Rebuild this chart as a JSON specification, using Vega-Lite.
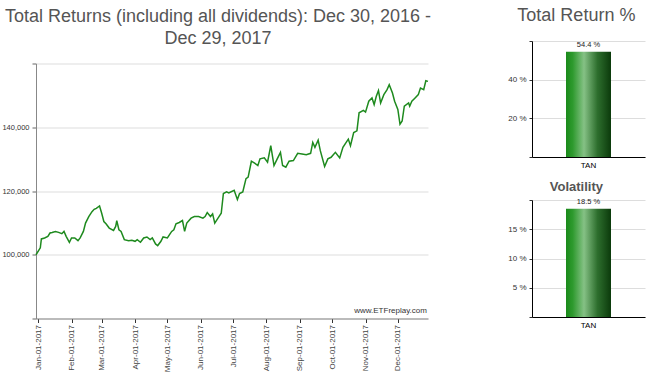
{
  "$schema": "https://vega.github.io/schema/vega-lite/v6.json",
  "padding": {"left": 1, "top": 7, "right": 5, "bottom": 5},
  "background": "white",
  "config": {
    "view": {"stroke": null},
    "font": "Liberation Sans",
    "axis": {"labelFont": "Liberation Sans", "gridColor": "#dddddd", "title": null, "labelOverlap": false}
  },
  "spacing": 75,
  "hconcat": [
    {
      "spacing": 10.5,
      "vconcat": [
        {
          "title": {
            "text": ["Total Returns (including all dividends): Dec 30, 2016 -", "Dec 29, 2017"],
            "fontSize": 18, "fontWeight": "normal", "color": "#555555", "lineHeight": 22.6, "offset": -7.5, "anchor": "middle", "frame": "group", "dx": -14
          },
          "width": 392,
          "height": 1,
          "data": {"values": []},
          "mark": {"type": "rule"},
          "encoding": {}
        },
        {
          "width": 392,
          "height": 255,
          "layer": [
            {
              "data": {"values": [
                {"date": "2016/12/30", "value": 100000},
                {"date": "2017/01/03", "value": 102170},
                {"date": "2017/01/04", "value": 104960},
                {"date": "2017/01/07", "value": 105270},
                {"date": "2017/01/10", "value": 105770},
                {"date": "2017/01/12", "value": 106820},
                {"date": "2017/01/14", "value": 107010},
                {"date": "2017/01/17", "value": 107320},
                {"date": "2017/01/20", "value": 107010},
                {"date": "2017/01/23", "value": 106600},
                {"date": "2017/01/25", "value": 107320},
                {"date": "2017/01/27", "value": 105770},
                {"date": "2017/01/30", "value": 103900},
                {"date": "2017/02/01", "value": 105270},
                {"date": "2017/02/04", "value": 105270},
                {"date": "2017/02/07", "value": 104430},
                {"date": "2017/02/09", "value": 105270},
                {"date": "2017/02/12", "value": 107320},
                {"date": "2017/02/14", "value": 109920},
                {"date": "2017/02/17", "value": 111970},
                {"date": "2017/02/20", "value": 113520},
                {"date": "2017/02/22", "value": 114260},
                {"date": "2017/02/24", "value": 114570},
                {"date": "2017/02/27", "value": 115290},
                {"date": "2017/03/01", "value": 113020},
                {"date": "2017/03/03", "value": 110420},
                {"date": "2017/03/05", "value": 109710},
                {"date": "2017/03/08", "value": 108370},
                {"date": "2017/03/12", "value": 107630},
                {"date": "2017/03/14", "value": 108870},
                {"date": "2017/03/15", "value": 110730},
                {"date": "2017/03/17", "value": 107850},
                {"date": "2017/03/19", "value": 107320},
                {"date": "2017/03/22", "value": 104740},
                {"date": "2017/03/26", "value": 104430},
                {"date": "2017/03/29", "value": 104530},
                {"date": "2017/04/01", "value": 104220},
                {"date": "2017/04/03", "value": 104740},
                {"date": "2017/04/06", "value": 103910},
                {"date": "2017/04/09", "value": 105270},
                {"date": "2017/04/12", "value": 105580},
                {"date": "2017/04/15", "value": 104740},
                {"date": "2017/04/17", "value": 105270},
                {"date": "2017/04/20", "value": 103410},
                {"date": "2017/04/22", "value": 102880},
                {"date": "2017/04/25", "value": 104220},
                {"date": "2017/04/27", "value": 105580},
                {"date": "2017/05/01", "value": 105270},
                {"date": "2017/05/03", "value": 106300},
                {"date": "2017/05/05", "value": 107320},
                {"date": "2017/05/07", "value": 107850},
                {"date": "2017/05/09", "value": 109710},
                {"date": "2017/05/12", "value": 110120},
                {"date": "2017/05/15", "value": 110730},
                {"date": "2017/05/17", "value": 107320},
                {"date": "2017/05/19", "value": 109920},
                {"date": "2017/05/23", "value": 111470},
                {"date": "2017/05/26", "value": 111970},
                {"date": "2017/05/30", "value": 111970},
                {"date": "2017/06/03", "value": 111470},
                {"date": "2017/06/05", "value": 111970},
                {"date": "2017/06/07", "value": 113210},
                {"date": "2017/06/10", "value": 111970},
                {"date": "2017/06/12", "value": 112800},
                {"date": "2017/06/14", "value": 109920},
                {"date": "2017/06/17", "value": 111470},
                {"date": "2017/06/20", "value": 113020},
                {"date": "2017/06/22", "value": 119230},
                {"date": "2017/06/25", "value": 119730},
                {"date": "2017/06/27", "value": 119420},
                {"date": "2017/07/02", "value": 120250},
                {"date": "2017/07/05", "value": 117360},
                {"date": "2017/07/07", "value": 119230},
                {"date": "2017/07/10", "value": 119730},
                {"date": "2017/07/13", "value": 123880},
                {"date": "2017/07/15", "value": 124380},
                {"date": "2017/07/18", "value": 129340},
                {"date": "2017/07/21", "value": 128720},
                {"date": "2017/07/24", "value": 128000},
                {"date": "2017/07/26", "value": 130080},
                {"date": "2017/07/30", "value": 130390},
                {"date": "2017/08/02", "value": 129030},
                {"date": "2017/08/05", "value": 134200},
                {"date": "2017/08/08", "value": 128000},
                {"date": "2017/08/11", "value": 130080},
                {"date": "2017/08/14", "value": 132130},
                {"date": "2017/08/16", "value": 128000},
                {"date": "2017/08/19", "value": 127480},
                {"date": "2017/08/22", "value": 129340},
                {"date": "2017/08/26", "value": 129550},
                {"date": "2017/08/30", "value": 131820},
                {"date": "2017/09/03", "value": 131630},
                {"date": "2017/09/07", "value": 131410},
                {"date": "2017/09/11", "value": 131820},
                {"date": "2017/09/13", "value": 135230},
                {"date": "2017/09/15", "value": 133680},
                {"date": "2017/09/18", "value": 135970},
                {"date": "2017/09/20", "value": 132650},
                {"date": "2017/09/24", "value": 127690},
                {"date": "2017/09/27", "value": 130080},
                {"date": "2017/09/30", "value": 130580},
                {"date": "2017/10/04", "value": 132130},
                {"date": "2017/10/08", "value": 130390},
                {"date": "2017/10/11", "value": 133680},
                {"date": "2017/10/16", "value": 136280},
                {"date": "2017/10/18", "value": 134200},
                {"date": "2017/10/21", "value": 138330},
                {"date": "2017/10/24", "value": 138860},
                {"date": "2017/10/26", "value": 144530},
                {"date": "2017/10/30", "value": 145270},
                {"date": "2017/11/01", "value": 144750},
                {"date": "2017/11/04", "value": 148160},
                {"date": "2017/11/07", "value": 149190},
                {"date": "2017/11/09", "value": 147140},
                {"date": "2017/11/11", "value": 149710},
                {"date": "2017/11/13", "value": 151480},
                {"date": "2017/11/15", "value": 147630},
                {"date": "2017/11/18", "value": 150240},
                {"date": "2017/11/21", "value": 151790},
                {"date": "2017/11/23", "value": 153340},
                {"date": "2017/11/26", "value": 150730},
                {"date": "2017/11/28", "value": 148160},
                {"date": "2017/12/01", "value": 145580},
                {"date": "2017/12/03", "value": 140930},
                {"date": "2017/12/05", "value": 141960},
                {"date": "2017/12/07", "value": 146610},
                {"date": "2017/12/11", "value": 147630},
                {"date": "2017/12/12", "value": 146610},
                {"date": "2017/12/14", "value": 148160},
                {"date": "2017/12/17", "value": 149190},
                {"date": "2017/12/20", "value": 150240},
                {"date": "2017/12/22", "value": 152290},
                {"date": "2017/12/25", "value": 151790},
                {"date": "2017/12/27", "value": 154580},
                {"date": "2017/12/29", "value": 154400}
              ]},
              "mark": {"type": "line", "color": "#1e8a1e", "strokeWidth": 1.5},
              "encoding": {
                "x": {
                  "field": "date", "type": "temporal",
                  "scale": {"domain": [{"year": 2016, "month": 12, "date": 30}, {"year": 2017, "month": 12, "date": 29}], "nice": false},
                  "axis": {
                    "format": "%b-%d-%Y", "labelAngle": 270, "labelAlign": "right", "labelBaseline": "middle",
                    "labelFontSize": 8, "labelColor": "#444444", "tickCount": {"interval": "month", "step": 1},
                    "grid": false, "domainColor": "#888888", "tickColor": "#333333", "tickSize": 4, "labelPadding": 2,
                    "labelFlush": false, "labelOverlap": false
                  }
                },
                "y": {
                  "field": "value", "type": "quantitative",
                  "scale": {"domain": [80000, 160000], "nice": false, "zero": false},
                  "axis": {
                    "values": [80000, 100000, 120000, 140000, 160000],
                    "labelExpr": "datum.value == 80000 || datum.value == 160000 ? '' : format(datum.value, ',d')",
                    "labelFontSize": 7.5, "labelColor": "#333333", "domainColor": "#888888", "tickColor": "#666666",
                    "tickSize": 4, "labelPadding": 3, "gridColor": "#dddddd", "labelOverlap": false
                  }
                }
              }
            },
            {
              "data": {"values": [{"label": "www.ETFreplay.com"}]},
              "mark": {"type": "text", "align": "right", "baseline": "middle", "fontSize": 8, "color": "#333333"},
              "encoding": {
                "x": {"datum": {"year": 2017, "month": 12, "date": 28}, "type": "temporal"},
                "y": {"datum": 82200, "type": "quantitative"},
                "text": {"field": "label"}
              }
            }
          ]
        }
      ]
    },
    {
      "spacing": 12,
      "vconcat": [
        {
          "title": {"text": "Total Return %", "fontSize": 18, "fontWeight": "normal", "color": "#555555", "offset": 12, "anchor": "middle", "frame": "bounds"},
          "width": 113,
          "height": 116,
          "data": {"values": [{"ticker": "TAN", "value": 54.4, "label": "54.4 %"}]},
          "encoding": {
            "x": {"field": "ticker", "type": "nominal", "axis": {"labelAngle": 0, "ticks": false, "labelFontSize": 8, "labelColor": "#000000", "domainColor": "#000000", "labelPadding": 4}},
            "y": {"field": "value", "type": "quantitative", "scale": {"domain": [0, 60], "nice": false},
              "axis": {"values": [0, 20, 40, 60], "labelOverlap": false, "labelExpr": "datum.value == 0 || datum.value == 60 ? '' : datum.value + ' %'", "labelFontSize": 8, "labelColor": "#333333", "domainColor": "#000000", "tickColor": "#333333", "tickSize": 3, "labelPadding": 3}}
          },
          "layer": [
            {
              "mark": {"type": "bar", "size": 45, "color": {"gradient": "linear", "x1": 0, "x2": 1, "y1": 0, "y2": 0, "stops": [{"offset": 0, "color": "#1a8a1a"}, {"offset": 0.15, "color": "#2e9a2e"}, {"offset": 0.4, "color": "#85c185"}, {"offset": 0.7, "color": "#2d6e2d"}, {"offset": 1, "color": "#0b3a0b"}]}}
            },
            {
              "mark": {"type": "text", "dy": -7, "fontSize": 7.5, "color": "#222222"},
              "encoding": {"text": {"field": "label"}}
            }
          ]
        },
        {
          "title": {"text": "Volatility", "fontSize": 13, "fontWeight": "bold", "color": "#555555", "offset": 2, "anchor": "middle", "frame": "bounds"},
          "width": 113,
          "height": 117,
          "data": {"values": [{"ticker": "TAN", "value": 18.5, "label": "18.5 %"}]},
          "encoding": {
            "x": {"field": "ticker", "type": "nominal", "axis": {"labelAngle": 0, "ticks": false, "labelFontSize": 8, "labelColor": "#000000", "domainColor": "#000000", "labelPadding": 4}},
            "y": {"field": "value", "type": "quantitative", "scale": {"domain": [0, 20], "nice": false},
              "axis": {"values": [0, 5, 10, 15, 20], "labelOverlap": false, "labelExpr": "datum.value == 0 || datum.value == 20 ? '' : datum.value + ' %'", "labelFontSize": 8, "labelColor": "#333333", "domainColor": "#000000", "tickColor": "#333333", "tickSize": 3, "labelPadding": 3}}
          },
          "layer": [
            {
              "mark": {"type": "bar", "size": 45, "color": {"gradient": "linear", "x1": 0, "x2": 1, "y1": 0, "y2": 0, "stops": [{"offset": 0, "color": "#1a8a1a"}, {"offset": 0.15, "color": "#2e9a2e"}, {"offset": 0.4, "color": "#85c185"}, {"offset": 0.7, "color": "#2d6e2d"}, {"offset": 1, "color": "#0b3a0b"}]}}
            },
            {
              "mark": {"type": "text", "dy": -7, "fontSize": 7.5, "color": "#222222"},
              "encoding": {"text": {"field": "label"}}
            }
          ]
        }
      ]
    }
  ]
}
